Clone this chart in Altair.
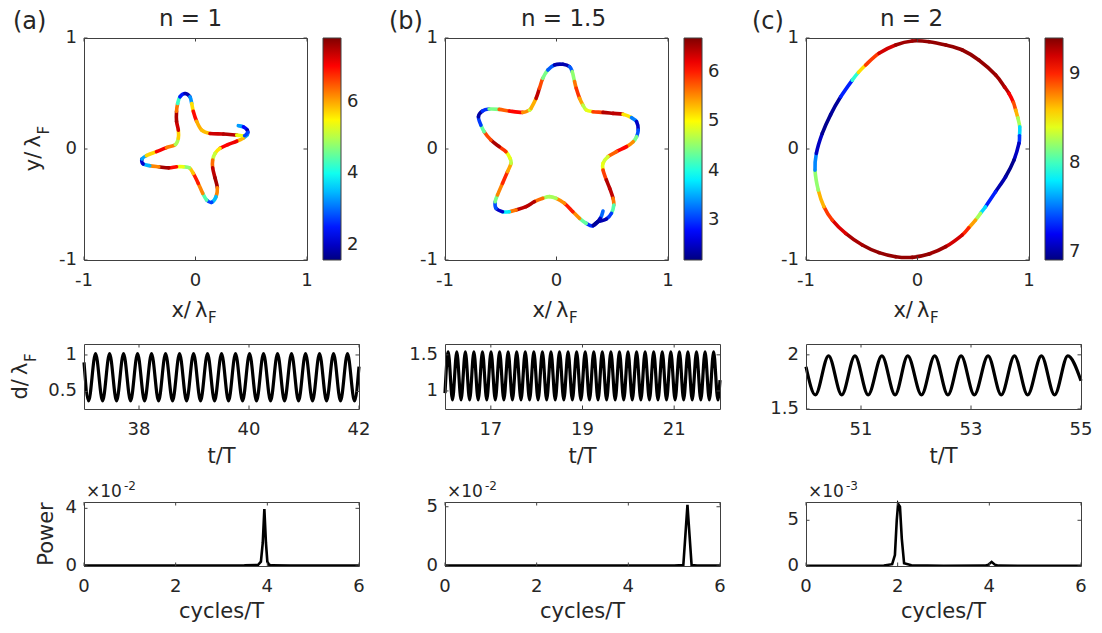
import altair as alt
import pandas as pd

FONT = "DejaVu Sans"
TXT = "#262626"
FRAME = "#404040"
JET = ["#000080", "#0000ff", "#0080ff", "#00ffff", "#80ff80",
       "#ffff00", "#ff8000", "#ff0000", "#800000"]

# ---------------- (a) n = 1 : trajectory (x, y in lambda_F, speed colour) ----------------
a_x = [0.384, 0.43, 0.465, 0.465, 0.43, 0.37, 0.29, 0.22, 0.175, 0.154,
       0.154, 0.175, 0.196, 0.184, 0.145, 0.10, 0.065, 0.025, -0.02, -0.056,
       -0.11, -0.17, -0.24, -0.33, -0.41, -0.47, -0.48, -0.44, -0.35, -0.26,
       -0.18, -0.154, -0.154, -0.17, -0.17, -0.16, -0.14, -0.094, -0.05, -0.034,
       -0.02, 0.01, 0.056, 0.13, 0.25, 0.37, 0.44, 0.47]
a_y = [0.21, 0.20, 0.17, 0.13, 0.10, 0.07, 0.04, 0.006, -0.04, -0.10,
       -0.17, -0.26, -0.35, -0.43, -0.48, -0.46, -0.40, -0.31, -0.22, -0.17,
       -0.16, -0.16, -0.17, -0.16, -0.15, -0.135, -0.09, -0.06, -0.024, 0.012,
       0.04, 0.096, 0.17, 0.25, 0.34, 0.41, 0.47, 0.50, 0.47, 0.41,
       0.34, 0.25, 0.17, 0.14, 0.135, 0.125, 0.12, 0.15]
a_s = [3.6, 3.0, 1.8, 1.9, 5.0, 6.8, 7.4, 6.6, 4.6, 5.6,
       7.1, 7.7, 7.4, 5.0, 2.0, 3.5, 5.3, 7.1, 6.6, 5.0,
       4.5, 6.2, 7.7, 7.4, 5.0, 1.9, 2.2, 4.5, 6.9, 7.2,
       5.3, 4.6, 6.9, 7.7, 7.3, 5.3, 3.2, 1.8, 2.0, 4.5,
       6.8, 7.1, 4.8, 6.9, 7.7, 7.2, 3.5, 2.0]
a_cdom = [1.58, 7.78]
a_cticks = [2, 4, 6]

# ---------------- (b) n = 1.5 ----------------
b_x = [0.417, 0.393, 0.327, 0.267, 0.207, 0.147, 0.072, -0.003, -0.063, -0.123,
       -0.198, -0.273, -0.363, -0.423, -0.484, -0.543, -0.550, -0.529, -0.484, -0.439,
       -0.408, -0.417, -0.453, -0.514, -0.588, -0.649, -0.678, -0.700, -0.664, -0.604,
       -0.514, -0.423, -0.303, -0.243, -0.228, -0.183, -0.153, -0.123, -0.078, -0.018,
       0.057, 0.117, 0.141, 0.162, 0.177, 0.207, 0.237, 0.267, 0.327, 0.417,
       0.507, 0.597, 0.673, 0.718, 0.733, 0.718, 0.688, 0.628, 0.538, 0.462,
       0.417, 0.417, 0.447, 0.477, 0.507, 0.514, 0.493, 0.447, 0.372, 0.33]
b_y = [-0.559, -0.625, -0.691, -0.670, -0.625, -0.565, -0.489, -0.444, -0.429, -0.444,
       -0.475, -0.520, -0.550, -0.565, -0.565, -0.534, -0.475, -0.414, -0.309, -0.204,
       -0.129, -0.084, -0.024, 0.021, 0.081, 0.156, 0.216, 0.291, 0.342, 0.360,
       0.357, 0.342, 0.330, 0.351, 0.367, 0.457, 0.547, 0.637, 0.712, 0.757,
       0.763, 0.742, 0.697, 0.607, 0.547, 0.457, 0.396, 0.351, 0.336, 0.330,
       0.321, 0.312, 0.282, 0.246, 0.171, 0.111, 0.066, 0.021, -0.024, -0.069,
       -0.129, -0.189, -0.279, -0.354, -0.444, -0.505, -0.579, -0.631, -0.655, -0.688]
b_s = [3.8, 2.6, 2.3, 3.6, 5.0, 6.0, 6.0, 5.0, 4.2, 5.0,
       6.3, 6.6, 6.2, 5.0, 2.6, 2.4, 3.8, 5.0, 6.1, 5.8,
       5.0, 4.4, 5.4, 6.4, 6.6, 5.0, 3.6, 2.4, 2.3, 3.6,
       5.2, 6.2, 6.0, 5.0, 4.5, 6.2, 6.6, 5.0, 3.8, 2.5,
       2.3, 2.5, 3.8, 5.2, 6.0, 5.8, 5.0, 4.4, 5.4, 6.3,
       6.6, 6.2, 4.0, 2.6, 2.4, 3.8, 5.0, 6.0, 6.2, 5.2,
       4.4, 5.4, 6.3, 6.6, 6.2, 5.0, 3.5, 2.5, 2.3, 2.3]
b_cdom = [2.19, 6.68]
b_cticks = [3, 4, 5, 6]

# ---------------- (c) n = 2 (closed loop: last point repeats the first) ----------------
c_x = [-0.047, 0.103, 0.253, 0.402, 0.552, 0.701, 0.78, 0.821, 0.86, 0.881,
       0.90, 0.917, 0.915, 0.91, 0.865, 0.79, 0.70, 0.61, 0.565, 0.52,
       0.46, 0.40, 0.253, 0.103, -0.047, -0.196, -0.345, -0.495, -0.644, -0.764,
       -0.839, -0.89, -0.919, -0.907, -0.854, -0.779, -0.689, -0.585, -0.53, -0.465,
       -0.345, -0.196, -0.047]
c_y = [0.973, 0.967, 0.937, 0.892, 0.80, 0.667, 0.56, 0.50, 0.42, 0.35,
       0.28, 0.20, 0.12, 0.05, -0.10, -0.25, -0.385, -0.52, -0.58, -0.64,
       -0.71, -0.775, -0.88, -0.946, -0.976, -0.97, -0.934, -0.865, -0.76, -0.64,
       -0.52, -0.37, -0.19, -0.04, 0.14, 0.31, 0.47, 0.62, 0.69, 0.757,
       0.862, 0.937, 0.973]
c_s = [9.35, 9.35, 9.35, 9.35, 9.35, 9.35, 9.3, 9.2, 9.0, 8.8,
       8.5, 8.0, 7.5, 7.2, 6.95, 6.95, 7.1, 7.5, 8.0, 8.5,
       8.9, 9.1, 9.3, 9.35, 9.35, 9.35, 9.35, 9.35, 9.25, 9.1,
       8.8, 8.5, 7.9, 7.2, 6.95, 6.95, 7.0, 7.6, 8.3, 8.8,
       9.1, 9.3, 9.35]
c_cdom = [6.91, 9.40]
c_cticks = [7, 8, 9]

# ---------------- middle row: d / lambda_F vs t / T (extrema) ----------------
ma_t = [37.000, 37.083, 37.210, 37.338, 37.465, 37.592, 37.719, 37.847, 37.974, 38.101,
        38.228, 38.356, 38.483, 38.610, 38.737, 38.865, 38.992, 39.119, 39.246, 39.374,
        39.501, 39.628, 39.755, 39.883, 40.010, 40.137, 40.264, 40.392, 40.519, 40.646,
        40.773, 40.901, 41.028, 41.155, 41.282, 41.410, 41.537, 41.664, 41.791, 41.918,
        42.000]
ma_d = [0.90, 0.37, 1.02, 0.37, 1.02, 0.37, 1.02, 0.37, 1.02, 0.37,
        1.02, 0.37, 1.02, 0.37, 1.02, 0.37, 1.02, 0.37, 1.02, 0.37,
        1.02, 0.37, 1.02, 0.37, 1.02, 0.37, 1.02, 0.37, 1.02, 0.37,
        1.02, 0.37, 1.02, 0.37, 1.02, 0.37, 1.02, 0.37, 1.02, 0.37,
        0.84]
mb_t = [16.000, 16.070, 16.163, 16.257, 16.350, 16.444, 16.537, 16.630, 16.724, 16.817,
        16.911, 17.004, 17.097, 17.191, 17.284, 17.378, 17.471, 17.564, 17.658, 17.751,
        17.845, 17.938, 18.031, 18.125, 18.218, 18.312, 18.405, 18.498, 18.592, 18.685,
        18.779, 18.872, 18.965, 19.059, 19.152, 19.246, 19.339, 19.432, 19.526, 19.619,
        19.713, 19.806, 19.899, 19.993, 20.086, 20.180, 20.273, 20.366, 20.460, 20.553,
        20.647, 20.740, 20.833, 20.927, 21.020, 21.114, 21.207, 21.300, 21.394, 21.487,
        21.581, 21.674, 21.767, 21.861, 21.954, 22.000]
mb_d = [0.97, 1.54, 0.875, 1.54, 0.875, 1.54, 0.875, 1.54, 0.875, 1.54,
        0.875, 1.54, 0.875, 1.54, 0.875, 1.54, 0.875, 1.54, 0.875, 1.54,
        0.875, 1.54, 0.875, 1.54, 0.875, 1.54, 0.875, 1.54, 0.875, 1.54,
        0.875, 1.54, 0.875, 1.54, 0.875, 1.54, 0.875, 1.54, 0.875, 1.54,
        0.875, 1.54, 0.875, 1.54, 0.875, 1.54, 0.875, 1.54, 0.875, 1.54,
        0.875, 1.54, 0.875, 1.54, 0.875, 1.54, 0.875, 1.54, 0.875, 1.54,
        0.875, 1.54, 0.875, 1.54, 0.875, 1.15]
mc_t = [50.00, 50.17, 50.41, 50.65, 50.89, 51.13, 51.38, 51.62, 51.85, 52.10,
        52.34, 52.58, 52.82, 53.06, 53.31, 53.55, 53.79, 54.03, 54.28, 54.52,
        54.76, 55.00]
mc_d = [1.89, 1.63, 1.99, 1.63, 1.99, 1.63, 1.99, 1.63, 1.99, 1.63,
        1.99, 1.63, 1.99, 1.63, 1.99, 1.63, 1.99, 1.63, 1.99, 1.63,
        1.99, 1.76]

# ---------------- bottom row: power spectra ----------------
pa_f = [0, 1, 2, 3, 3.5, 3.8, 3.86, 3.9, 3.935, 3.97, 4.0, 4.04, 4.1, 4.5, 5, 6]
pa_p = [0.03, 0.03, 0.03, 0.03, 0.04, 0.08, 0.3, 1.6, 3.95, 1.6, 0.3, 0.08, 0.04, 0.03, 0.03, 0.03]
pb_f = [0, 2, 4, 5.0, 5.2, 5.245, 5.29, 5.335, 5.38, 5.5, 6]
pb_p = [0.03, 0.03, 0.03, 0.04, 0.08, 2.6, 5.15, 2.6, 0.08, 0.04, 0.03]
pc_f = [0, 1, 1.7, 1.88, 1.94, 1.98, 2.01, 2.05, 2.09, 2.14, 2.3, 3, 3.9, 3.98, 4.05, 4.12, 4.2, 5, 6]
pc_p = [0.03, 0.03, 0.06, 0.2, 1.2, 5.0, 6.8, 6.5, 3.0, 0.3, 0.08, 0.03, 0.04, 0.15, 0.45, 0.15, 0.04, 0.03, 0.03]

ONE = pd.DataFrame({"k": [0]})


def txt(s, x, y, size, align="center", baseline="alphabetic", angle=0):
    kw = dict(text=s, font=FONT, fontSize=size, color=TXT, align=align, baseline=baseline)
    if angle:
        kw["angle"] = angle
    return alt.Chart(ONE).mark_text(**kw).encode(x=alt.value(x), y=alt.value(y))


def frame_layers(W, H, xs, ys, xticks, xlabels, yticks, ylabels, L=3.5):
    dx = pd.DataFrame({"v": xticks, "lab": xlabels})
    dy = pd.DataFrame({"v": yticks, "lab": ylabels})
    X = alt.X("v:Q", scale=xs, axis=None)
    Y = alt.Y("v:Q", scale=ys, axis=None)
    r = dict(color=FRAME, strokeWidth=1)
    return [
        alt.Chart(ONE).mark_rect(fill="transparent", stroke=FRAME, strokeWidth=1).encode(
            x=alt.value(0.5), x2=alt.value(W + 0.5), y=alt.value(0.5), y2=alt.value(H + 0.5)),
        alt.Chart(dx).mark_rule(**r).encode(x=X, y=alt.value(H), y2=alt.value(H - L)),
        alt.Chart(dx).mark_rule(**r).encode(x=X, y=alt.value(0), y2=alt.value(L)),
        alt.Chart(dy).mark_rule(**r).encode(y=Y, x=alt.value(0), x2=alt.value(L)),
        alt.Chart(dy).mark_rule(**r).encode(y=Y, x=alt.value(W), x2=alt.value(W - L)),
        alt.Chart(dx).mark_text(font=FONT, fontSize=18, color=TXT, align="center",
                                baseline="alphabetic").encode(x=X, y=alt.value(H + 26), text="lab:N"),
        alt.Chart(dy).mark_text(font=FONT, fontSize=18, color=TXT, align="right",
                                baseline="middle").encode(y=Y, x=alt.value(-7), text="lab:N"),
    ]


def path_table(px, py, ps, closed):
    """One 4-row group per segment (neighbour, start, end, neighbour) so that a
    'cardinal-open' line draws just the smooth piece between the two middle points."""
    if closed:
        n = len(px) - 1
        get = lambda j: j % n
        nseg = n
    else:
        n = len(px)
        get = lambda j: min(max(j, 0), n - 1)
        nseg = n - 1
    rows = []
    for i in range(nseg):
        s = (ps[get(i)] + ps[get(i + 1)]) / 2
        for k, j in enumerate([i - 1, i, i + 1, i + 2]):
            q = get(j)
            rows.append({"seg": i, "k": k, "x": px[q], "y": py[q], "s": s})
    return pd.DataFrame(rows)


def traj_panel(px, py, ps, dom, cticks, tag, tag_x, title, title_dx, closed=False,
               ylab=False, anchor=False):
    W, H = 223, 222
    seg = path_table(px, py, ps, closed)
    sx = alt.Scale(domain=[-1, 1], nice=False, zero=False)
    sy = alt.Scale(domain=[-1, 1], nice=False, zero=False)
    traj = alt.Chart(seg).mark_line(strokeWidth=3.6, strokeCap="round",
                                    interpolate="cardinal-open").encode(
        x=alt.X("x:Q", scale=sx, axis=None),
        y=alt.Y("y:Q", scale=sy, axis=None),
        detail="seg:N",
        order="k:Q",
        color=alt.Color("s:Q",
                        scale=alt.Scale(domain=dom, range=JET, interpolate="rgb"),
                        legend=alt.Legend(orient="none", legendX=W + 16, legendY=0,
                                          direction="vertical", gradientLength=H,
                                          gradientThickness=18, values=cticks, title=None,
                                          format="d",
                                          labelFont=FONT, labelFontSize=18, labelColor=TXT,
                                          labelOffset=6, gradientStrokeColor=FRAME,
                                          gradientStrokeWidth=1, padding=0)))
    layers = [traj] + frame_layers(W, H, sx, sy, [-1, 0, 1], ["-1", "0", "1"],
                                   [-1, 0, 1], ["-1", "0", "1"])
    layers += [
        txt(title, W / 2 + title_dx, -12, 23),
        txt(tag, tag_x, -9, 24, align="left"),
        txt("x/\u2009\u03bb", W / 2 + 12, H + 57, 21, align="right"),
        txt("F", W / 2 + 12.5, H + 63, 15, align="left"),
    ]
    if ylab:
        yj = H / 2 - 14
        layers += [
            txt("y/\u2009\u03bb", -44, yj, 21, align="right", angle=270),
            txt("F", -35, yj - 0.5, 15, align="left", angle=270),
        ]
    if anchor:
        layers.append(alt.Chart(ONE).mark_rule(color="white", strokeWidth=1).encode(
            x=alt.value(-83.5), x2=alt.value(-83), y=alt.value(-37.5), y2=alt.value(-37.5)))
    return alt.layer(*layers).properties(width=W, height=H)


def mid_panel(t, d, xdom, ydom, xticks, xlabels, yticks, ylabels, ylab=False):
    # cell is 74 px tall; the framed plot occupies the top 65 px
    W, H, CELL = 275, 65, 74
    sx = alt.Scale(domain=xdom, nice=False, zero=False)
    sy = alt.Scale(domain=ydom, nice=False, zero=False, range=[H, 0])
    line = alt.Chart(pd.DataFrame({"t": t, "d": d})).mark_line(
        color="black", strokeWidth=3.2, interpolate="monotone").encode(
        x=alt.X("t:Q", scale=sx, axis=None), y=alt.Y("d:Q", scale=sy, axis=None))
    layers = [line] + frame_layers(W, H, sx, sy, xticks, xlabels, yticks, ylabels)
    layers.append(txt("t/T", W / 2, H + 54, 21))
    if ylab:
        yj = H / 2 - 14
        layers += [
            txt("d/\u2009\u03bb", -57, yj, 21, align="right", angle=270),
            txt("F", -48, yj - 0.5, 15, align="left", angle=270),
        ]
    return alt.layer(*layers).properties(width=W, height=CELL)


def pow_panel(f, p, ydom, yticks, ylabels, expo, ylab=False):
    W, H = 275, 64
    sx = alt.Scale(domain=[0, 6], nice=False, zero=False)
    sy = alt.Scale(domain=ydom, nice=False, zero=False)
    line = alt.Chart(pd.DataFrame({"f": f, "p": p})).mark_line(
        color="black", strokeWidth=2.6).encode(
        x=alt.X("f:Q", scale=sx, axis=None), y=alt.Y("p:Q", scale=sy, axis=None))
    layers = [line] + frame_layers(W, H, sx, sy, [0, 2, 4, 6], ["0", "2", "4", "6"],
                                   yticks, ylabels)
    layers += [
        txt("cycles/T", W / 2, H + 52, 21),
        txt("\u00d710", 2, -5, 17, align="left"),
        txt(expo, 40, -12, 12, align="left"),
    ]
    if ylab:
        layers.append(txt("Power", -31, H / 2, 21, angle=270))
    return alt.layer(*layers).properties(width=W, height=H)


ta = traj_panel(a_x, a_y, a_s, a_cdom, a_cticks, "(a)", -71, "n = 1", -5, ylab=True, anchor=True)
tb = traj_panel(b_x, b_y, b_s, b_cdom, b_cticks, "(b)", -56, "n = 1.5", 7)
tc = traj_panel(c_x, c_y, c_s, c_cdom, c_cticks, "(c)", -54, "n = 2", -6, closed=True)

ma = mid_panel(ma_t, ma_d, [37, 42], [0.26, 1.15], [38, 40, 42], ["38", "40", "42"],
               [0.5, 1], ["0.5", "1"], ylab=True)
mb = mid_panel(mb_t, mb_d, [16, 22], [0.75, 1.65], [17, 19, 21], ["17", "19", "21"],
               [1, 1.5], ["1", "1.5"])
mc = mid_panel(mc_t, mc_d, [50, 55], [1.5, 2.1], [51, 53, 55], ["51", "53", "55"],
               [1.5, 2], ["1.5", "2"])

pa = pow_panel(pa_f, pa_p, [0, 4.44], [0, 4], ["0", "4"], "-2", ylab=True)
pb = pow_panel(pb_f, pb_p, [0, 5.4], [0, 5], ["0", "5"], "-2")
pc = pow_panel(pc_f, pc_p, [0, 7], [0, 5], ["0", "5"], "-3")

chart = alt.concat(ta, tb, tc, ma, mb, mc, pa, pb, pc, columns=3,
                   spacing={"row": 84, "column": 86}, bounds="flush", align="each").resolve_scale(
    x="independent", y="independent", color="independent").resolve_legend(
    color="independent").properties(padding=0, background="white")
chart = chart.configure(font=FONT).configure_view(stroke="transparent", strokeWidth=0)

chart.save("out.html", embed_options={"renderer": "svg", "actions": False})
